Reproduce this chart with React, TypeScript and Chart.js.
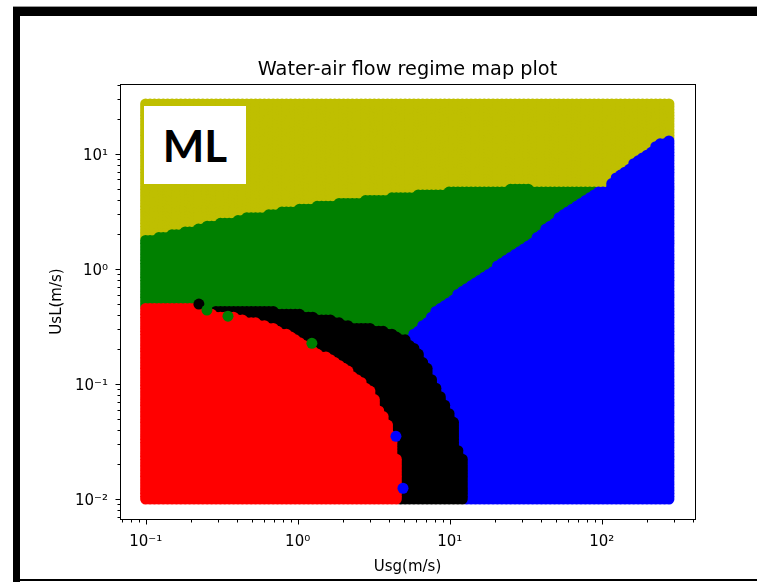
import React, { useEffect, useRef } from "react";
import { Chart, registerables } from "chart.js";

Chart.register(...registerables);

const W = 757;
const H = 582;

// Sampled grid of superficial velocities (log-spaced, as fed to the classifier)
const usgStart = 0.1;
const usgEnd = 277;
const usgSteps = 120;
const uslStart = 0.01;
const uslEnd = 27.2;
const uslSteps = 140;

// Regime boundaries: [Usg, UsL] pairs; below the line = that regime
const redLine: [number, number][] = [
  [0.093, 0.466], [0.196, 0.466], [0.228, 0.448], [0.286, 0.405], [0.381, 0.381],
  [0.486, 0.352], [0.628, 0.318], [0.89, 0.271], [1.3, 0.197], [2.14, 0.132],
  [2.99, 0.0883], [3.43, 0.0603], [3.99, 0.0438], [4.3, 0.0299], [4.57, 0.0189],
  [4.6, 0.009], [4.64, 0.0044],
];
const blackLine: [number, number][] = [
  [0.273, 0.439], [0.486, 0.439], [0.628, 0.448], [0.8, 0.405], [1.035, 0.405],
  [1.34, 0.381], [1.9, 0.352], [2.21, 0.318], [2.86, 0.312], [3.64, 0.288],
  [4.24, 0.271], [5.08, 0.245], [5.74, 0.213], [6.98, 0.146], [7.77, 0.104],
  [9.31, 0.0667], [10.8, 0.0465], [11.2, 0.0282], [12.2, 0.0217], [12.6, 0.0146],
  [12.8, 0.009], [13.0, 0.0044],
];
const blueLine: [number, number][] = [
  [5.08, 0.236], [6.1, 0.288], [7.09, 0.352], [8.25, 0.448], [10.05, 0.515],
  [11.7, 0.642], [16.6, 0.867], [21.4, 1.1], [27.7, 1.4], [35.3, 1.75],
  [45.7, 2.46], [59.1, 3.13], [75.3, 3.82], [83.8, 4.31], [93.1, 4.67],
  [108, 4.76], [119, 6.06], [161, 8.18], [208, 10.4], [235, 12.2],
  [277, 13.0], [327, 14.9],
];
const greenLine: [number, number][] = [
  [0.093, 1.82], [0.13, 1.9], [0.168, 2.09], [0.218, 2.23], [0.277, 2.46],
  [0.359, 2.56], [0.464, 2.83], [0.591, 2.89], [0.765, 3.13], [1.035, 3.32],
  [1.51, 3.6], [2.21, 3.82], [3.23, 4.06], [4.71, 4.22], [6.88, 4.49],
  [10.05, 4.67], [15.8, 4.86], [29.0, 4.96], [53.2, 4.86], [97.4, 4.76],
  [327, 4.76],
];

// Isolated predictions off the main regions
const strayBlack = [{ x: 0.224, y: 0.495 }];
const strayGreen = [
  { x: 0.253, y: 0.439 },
  { x: 0.348, y: 0.389 },
  { x: 1.24, y: 0.226 },
];
const strayBlue = [
  { x: 4.43, y: 0.0351 },
  { x: 4.93, y: 0.0124 },
];

const regimeColors = ["#ff0000", "#000000", "#0000ff", "#008000", "#bfbf00"];

const xMajor = [0.1, 1, 10, 100];
const xMajorLabels = ["10⁻¹", "10⁰", "10¹", "10²"];
const yMajor = [0.01, 0.1, 1, 10];
const yMajorLabels = ["10⁻²", "10⁻¹", "10⁰", "10¹"];

const titleText = "Water-air flow regime map plot";
const xTitle = "Usg(m/s)";
const yTitle = "UsL(m/s)";

const xMin = 0.0678;
const xMax = 411;
const yMin = 0.0067;
const yMax = 40.6;

const FONT = "'DejaVu Sans', sans-serif";

function logspace(a: number, b: number, n: number): number[] {
  const la = Math.log10(a);
  const lb = Math.log10(b);
  return Array.from({ length: n }, (_, i) => 10 ** (la + ((lb - la) * i) / (n - 1)));
}

// value of a boundary line at a given Usg (log-log), 0 where the regime does not reach
function lineAt(line: [number, number][], x: number): number {
  if (x < line[0][0] || x > line[line.length - 1][0]) return 0;
  const lx = Math.log10(x);
  for (let i = 0; i < line.length - 1; i++) {
    const [x0, y0] = line[i];
    const [x1, y1] = line[i + 1];
    if (x >= x0 && x <= x1) {
      const a = Math.log10(x0);
      const b = Math.log10(x1);
      const t = b === a ? 0 : (lx - a) / (b - a);
      return 10 ** (Math.log10(y0) + t * (Math.log10(y1) - Math.log10(y0)));
    }
  }
  return 0;
}

function minorTicks(min: number, max: number): number[] {
  const out: number[] = [];
  for (let e = -3; e <= 3; e++) {
    for (let m = 1; m <= 9; m++) {
      const v = m * 10 ** e;
      if (v >= min && v <= max) out.push(v);
    }
  }
  return out;
}

function majorIndex(list: number[], v: number): number {
  return list.findIndex((m) => Math.abs(Math.log10(m) - Math.log10(v)) < 1e-6);
}

function classifyGrid() {
  const usgGrid = logspace(usgStart, usgEnd, usgSteps);
  const uslGrid = logspace(uslStart, uslEnd, uslSteps);
  const pts: { x: number; y: number }[][] = regimeColors.map(() => []);
  usgGrid.forEach((x) => {
    const r = lineAt(redLine, x);
    const k = lineAt(blackLine, x);
    const b = lineAt(blueLine, x);
    const g = lineAt(greenLine, x);
    uslGrid.forEach((y) => {
      let c = 4;
      if (y <= r) c = 0;
      else if (y <= k) c = 1;
      else if (y <= b) c = 2;
      else if (y <= g) c = 3;
      pts[c].push({ x, y });
    });
  });
  return pts;
}

const decor = {
  id: "decor",
  afterDraw(chart: any) {
    const { ctx, chartArea: a, scales } = chart;
    ctx.save();
    ctx.strokeStyle = "#000";
    ctx.lineWidth = 1;
    const L = Math.round(a.left) + 0.5;
    const R = Math.round(a.right) + 0.5;
    const T = Math.round(a.top) + 0.5;
    const B = Math.round(a.bottom) + 0.5;
    ctx.strokeRect(L, T, R - L, B - T);
    ctx.beginPath();
    scales.x.ticks.forEach((t: any) => {
      const px = Math.round(scales.x.getPixelForValue(t.value)) + 0.5;
      const len = majorIndex(xMajor, t.value) >= 0 ? 5 : 3;
      ctx.moveTo(px, B);
      ctx.lineTo(px, B + len);
    });
    scales.y.ticks.forEach((t: any) => {
      const py = Math.round(scales.y.getPixelForValue(t.value)) + 0.5;
      const len = majorIndex(yMajor, t.value) >= 0 ? 5 : 3;
      ctx.moveTo(L, py);
      ctx.lineTo(L - len, py);
    });
    ctx.stroke();

    ctx.fillStyle = "#000";
    ctx.textAlign = "center";
    ctx.textBaseline = "alphabetic";
    ctx.font = `19.3px ${FONT}`;
    ctx.fillText(titleText, (a.left + a.right) / 2, 75);
    ctx.font = `15px ${FONT}`;
    ctx.fillText(xTitle, (a.left + a.right) / 2, 571);
    ctx.translate(61, (a.top + a.bottom) / 2);
    ctx.rotate(-Math.PI / 2);
    ctx.fillText(yTitle, 0, 0);
    ctx.restore();
  },
};

export default function App() {
  const ref = useRef<HTMLCanvasElement | null>(null);

  useEffect(() => {
    if (!ref.current) return;
    const pts = classifyGrid();
    const ds = (data: any[], color: string) => ({
      data,
      backgroundColor: color,
      borderColor: color,
      borderWidth: 0,
      pointRadius: 5.5,
      pointHoverRadius: 5.5,
      pointBorderWidth: 0,
    });
    const chart = new Chart(ref.current, {
      type: "scatter",
      data: {
        datasets: [
          ds(strayBlue, regimeColors[2]),
          ds(strayGreen, regimeColors[3]),
          ds(strayBlack, regimeColors[1]),
          ds(pts[0], regimeColors[0]),
          ds(pts[1], regimeColors[1]),
          ds(pts[2], regimeColors[2]),
          ds(pts[3], regimeColors[3]),
          ds(pts[4], regimeColors[4]),
        ],
      },
      options: {
        responsive: false,
        animation: false,
        devicePixelRatio: 1,
        events: [],
        layout: { padding: { top: 84, right: 62, bottom: 0, left: 0 } },
        plugins: {
          legend: { display: false },
          tooltip: { enabled: false },
          title: { display: false },
        },
        scales: {
          x: {
            type: "logarithmic",
            position: "bottom",
            min: xMin,
            max: xMax,
            afterFit: (s: any) => {
              s.height = H - 519;
            },
            afterBuildTicks: (s: any) => {
              s.ticks = minorTicks(xMin, xMax).map((v) => ({ value: v }));
            },
            ticks: {
              autoSkip: false,
              maxRotation: 0,
              minRotation: 0,
              padding: 9,
              color: "#000",
              font: { family: FONT, size: 15 },
              callback: (v: any) => {
                const i = majorIndex(xMajor, Number(v));
                return i >= 0 ? xMajorLabels[i] : "";
              },
            },
            grid: {
              display: true,
              drawOnChartArea: false,
              drawTicks: true,
              tickLength: 5,
              color: "transparent",
              tickColor: "transparent",
            },
            border: { display: false },
          },
          y: {
            type: "logarithmic",
            position: "left",
            min: yMin,
            max: yMax,
            afterFit: (s: any) => {
              s.width = 120;
            },
            afterBuildTicks: (s: any) => {
              s.ticks = minorTicks(yMin, yMax).map((v) => ({ value: v }));
            },
            ticks: {
              autoSkip: false,
              padding: 7,
              labelOffset: 2,
              color: "#000",
              font: { family: FONT, size: 15 },
              callback: (v: any) => {
                const i = majorIndex(yMajor, Number(v));
                return i >= 0 ? yMajorLabels[i] : "";
              },
            },
            grid: {
              display: true,
              drawOnChartArea: false,
              drawTicks: true,
              tickLength: 5,
              color: "transparent",
              tickColor: "transparent",
            },
            border: { display: false },
          },
        },
      } as any,
      plugins: [decor],
    });
    return () => chart.destroy();
  }, []);

  return (
    <div style={{ position: "absolute", left: 0, top: 0, width: W, height: H, background: "#fff", overflow: "hidden" }}>
      <canvas ref={ref} width={W} height={H} style={{ position: "absolute", left: 0, top: 0, width: W, height: H }} />
      <div style={{ position: "absolute", left: 13, top: 6, width: W - 13, height: 1, background: "#999" }} />
      <div style={{ position: "absolute", left: 13, top: 7, width: W - 13, height: 9, background: "#000" }} />
      <div style={{ position: "absolute", left: 13, top: 7, width: 7, height: H - 7, background: "#000" }} />
      <div style={{ position: "absolute", left: 13, top: 579, width: W - 13, height: 2, background: "#000" }} />
      <div
        style={{
          position: "absolute",
          left: 144,
          top: 106,
          width: 102,
          height: 78,
          background: "#fff",
          display: "flex",
          alignItems: "center",
          justifyContent: "center",
          fontFamily: "Lato, 'Open Sans', sans-serif",
          fontWeight: 700,
          fontSize: 44,
          color: "#000",
          lineHeight: 1,
        }}
      >
        ML
      </div>
    </div>
  );
}
